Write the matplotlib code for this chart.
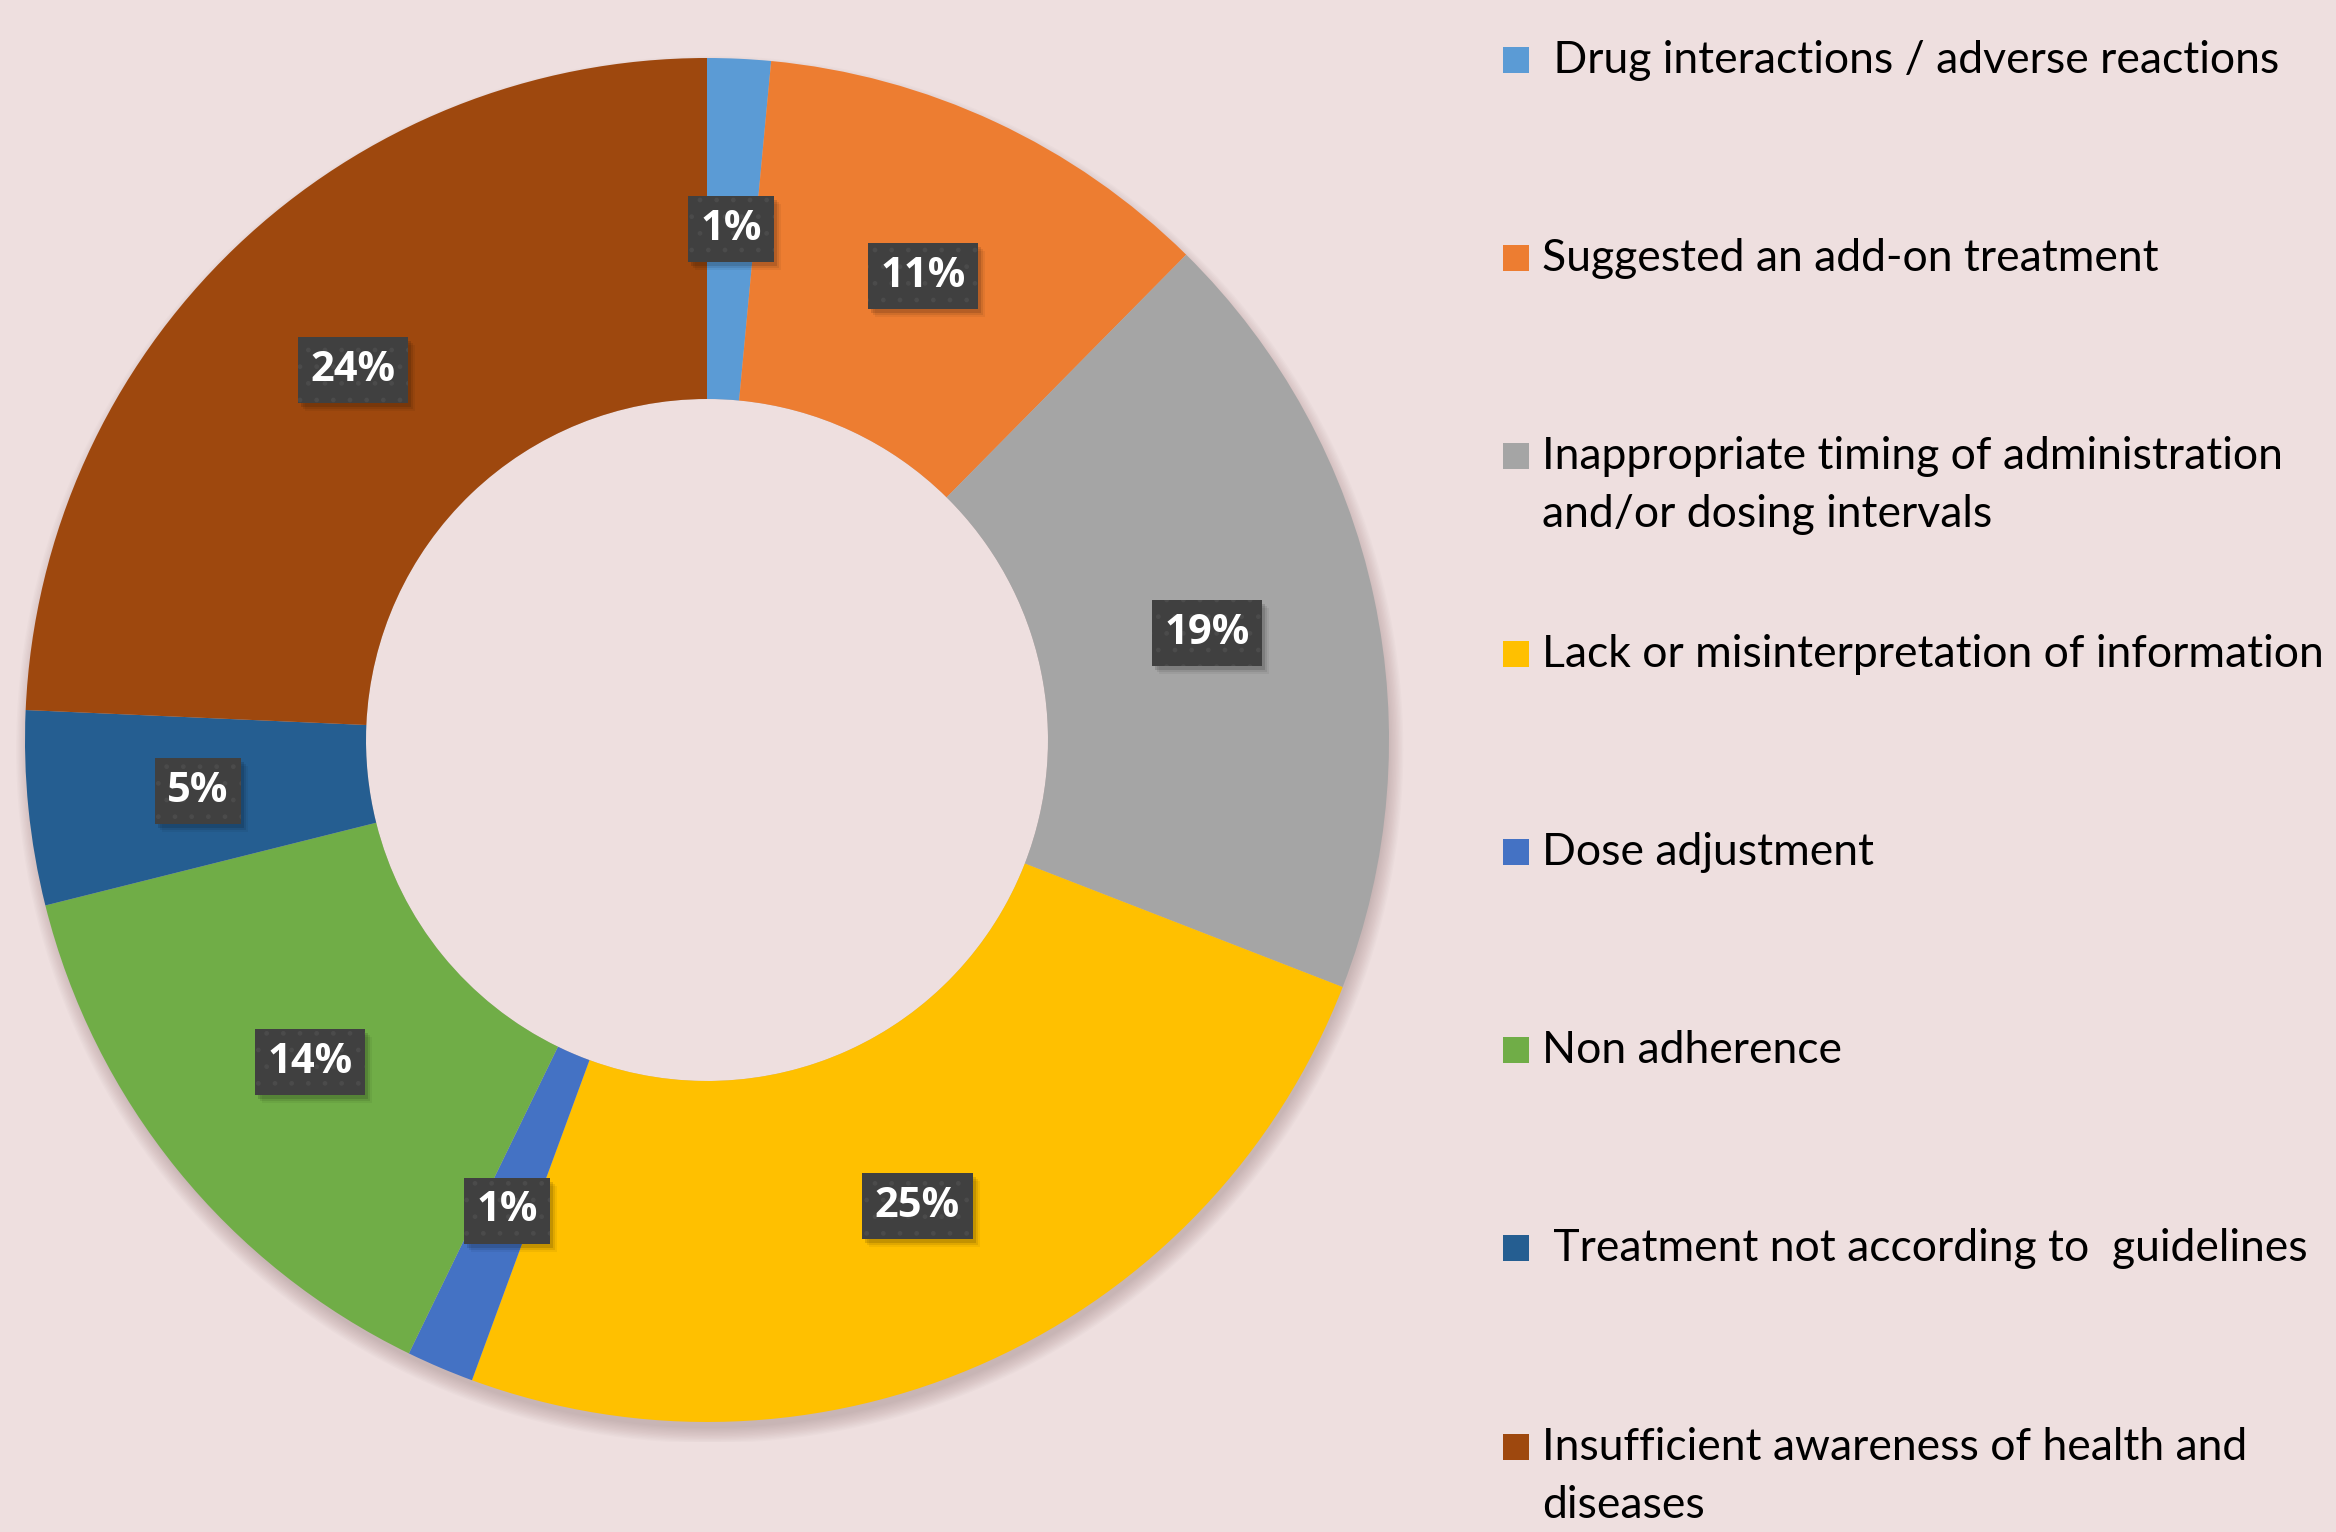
import matplotlib
matplotlib.use("Agg")
import matplotlib.pyplot as plt
import matplotlib.transforms as mtransforms
from matplotlib.patches import Rectangle, Circle
import numpy as np

categories = [
    " Drug interactions / adverse reactions",
    "Suggested an add-on treatment",
    "Inappropriate timing of administration\nand/or dosing intervals",
    "Lack or misinterpretation of information",
    "Dose adjustment",
    "Non adherence",
    " Treatment not according to  guidelines",
    "Insufficient awareness of health and\ndiseases",
]
values = [1.5, 10.9, 18.5, 24.7, 1.6, 13.9, 4.6, 24.3]
pct_labels = ["1%", "11%", "19%", "25%", "1%", "14%", "5%", "24%"]
colors = ["#5B9BD5", "#ED7D31", "#A5A5A5", "#FFC000", "#4472C4", "#70AD47", "#255E91", "#9E480E"]

BG = "#EEDFDF"
W, H = 2336, 1532
fig = plt.figure(figsize=(W / 100, H / 100), dpi=100, facecolor=BG)

# donut axes: center (707,740) px, radius 682 px
R_PX = 682
cx, cy = 707, 740
lim = 1.03
side = 2 * lim * R_PX
ax = fig.add_axes([(cx - side / 2) / W, (H - cy - side / 2) / H, side / W, side / H])
ax.set_facecolor(BG)

wedges, _ = ax.pie(values, colors=colors, startangle=90, counterclock=False,
                   radius=1.0, wedgeprops=dict(width=0.5, edgecolor="none"))
for w in wedges:
    w.set_zorder(1)

ax.set_xlim(-lim, lim)
ax.set_ylim(-lim, lim)
ax.set_aspect("equal")
ax.axis("off")

# soft shadow under the donut
for i in range(12):
    r = 0.995 + 0.002 * i
    ax.add_patch(Circle((0.004, -0.014), r, facecolor="#8a6a6a", alpha=0.03,
                        edgecolor="none", zorder=0))
ax.add_patch(Circle((0, 0), 0.5, facecolor=BG, edgecolor="none", zorder=0.5))

fs = 30
family = ["Open Sans", "DejaVu Sans"]
total = float(sum(values))
cum = 0.0
label_texts = []
for v, lab in zip(values, pct_labels):
    mid = cum + v / 2
    cum += v
    ang = np.deg2rad(90 - 360 * mid / total)
    x, y = 0.75 * np.cos(ang), 0.75 * np.sin(ang)
    t = ax.text(x, y, lab, ha="center", va="center", color="white",
                fontsize=fs, fontweight="bold", family=family, zorder=5,
                bbox=dict(boxstyle="square,pad=0.3", facecolor="#404040",
                          edgecolor="#4b4b4b", linewidth=0, hatch="."))
    label_texts.append(t)

# soft shadows behind the label boxes (display coordinates)
fig.canvas.draw()
ident = mtransforms.IdentityTransform()
for t in label_texts:
    bb = t.get_bbox_patch().get_window_extent()
    for dx, dy, a in [(3, -4, 0.12), (5, -6, 0.08), (7, -8, 0.05)]:
        ax.add_patch(Rectangle((bb.x0 + dx, bb.y0 + dy), bb.width, bb.height,
                               transform=ident, facecolor="black", alpha=a,
                               edgecolor="none", zorder=4))

# legend drawn manually
marker_x = 1503
msz = 26
text_x = 1542
y_centers = [60, 258, 456, 654, 852, 1050, 1248, 1447]
line_gap = 58
for lab, col, yc in zip(categories, colors, y_centers):
    fig.patches.append(Rectangle((marker_x / W, (H - yc - msz / 2) / H), msz / W, msz / H,
                                 transform=fig.transFigure, facecolor=col,
                                 edgecolor="none"))
    for i, line in enumerate(lab.split("\n")):
        yb = yc + 13 + i * line_gap
        fig.text(text_x / W, (H - yb) / H, line, ha="left", va="baseline",
                 fontsize=32, color="black", family=["Lato", "DejaVu Sans"])

fig.savefig("out.png", dpi=100, facecolor=BG)
